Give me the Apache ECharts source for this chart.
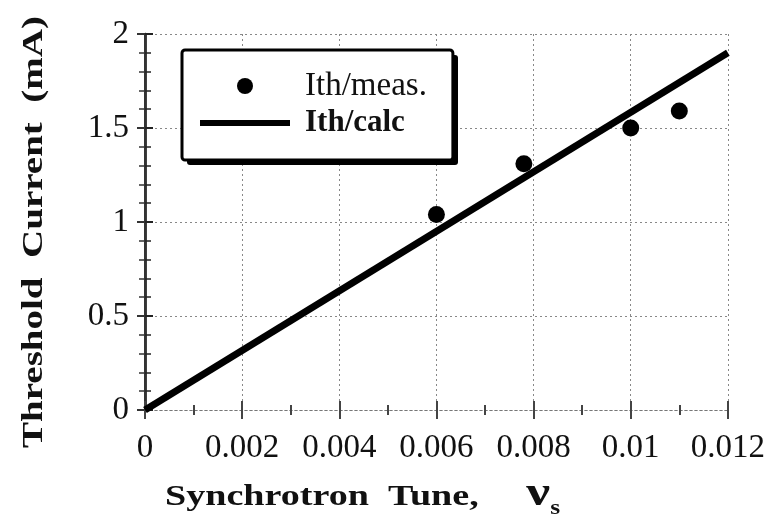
<!DOCTYPE html>
<html>
<head>
<meta charset="utf-8">
<script src="https://cdn.jsdelivr.net/npm/echarts@6/dist/echarts.min.js"></script>
<style>
  html, body { margin: 0; padding: 0; background: #fff; }
  #chart { width: 768px; height: 519px; }
</style>
</head>
<body>
<div id="chart"></div>
<script>
// Measured threshold current vs. synchrotron tune
const tuneMeas = [0.006, 0.0078, 0.010, 0.011];
const ithMeas = [1.04, 1.31, 1.50, 1.59];

// Calculated threshold (linear in tune)
const tuneCalc = [0, 0.012];
const ithCalc = [0, 1.9];

const xTicks = ['0', '0.002', '0.004', '0.006', '0.008', '0.01', '0.012'];
const yTicks = ['0', '0.5', '1', '1.5', '2'];

const serif = '"Liberation Serif", "Times New Roman", serif';

const chart = echarts.init(document.getElementById('chart'), null, { renderer: 'canvas' });

const dotted = { type: [2, 3], color: '#888', width: 1 };

chart.setOption({
  animation: false,
  backgroundColor: '#fff',
  grid: { left: 145, right: 34, top: 34, bottom: 109, containLabel: false },
  legend: {
    left: 182, top: 50,
    orient: 'vertical',
    padding: [19, 26, 20, 18],
    itemGap: 3,
    itemWidth: 90, itemHeight: 16,
    symbolKeepAspect: true,
    backgroundColor: '#fff',
    borderColor: '#000', borderWidth: 3, borderRadius: 3,
    textStyle: { fontFamily: serif, fontSize: 33, lineHeight: 34, color: '#111', padding: [0, 0, 0, 10] },
    data: [
      { name: 'Ith/meas.', icon: 'circle' },
      { name: 'Ith/calc', icon: 'path://M0,0L90,0L90,6L0,6Z', textStyle: { fontWeight: 'bold', fontSize: 31 } }
    ],
    z: 6
  },
  // drop shadow behind the legend box, and the two axis titles
  graphic: [
    {
      type: 'rect', z: 5,
      x: 187, y: 55,
      shape: { width: 271, height: 110, r: 3 },
      style: { fill: '#000' }
    },
    {
      type: 'text',
      x: 165, y: 497, scaleX: 1.27,
      style: {
        text: '{t|Synchrotron  Tune,     }{n|ν}{s|s}',
        textAlign: 'left', textVerticalAlign: 'middle',
        rich: {
          t: { fontFamily: serif, fontWeight: 'bold', fontSize: 30, fill: '#111' },
          n: { fontFamily: serif, fontWeight: 'bold', fontSize: 42, fill: '#111', padding: [0, 0, 6, 0] },
          s: { fontFamily: serif, fontWeight: 'bold', fontSize: 20, fill: '#111', padding: [24, 0, 0, 0] }
        }
      }
    },
    {
      type: 'text',
      x: 34, y: 232, rotation: Math.PI / 2, scaleX: 1.3,
      style: {
        text: 'Threshold  Current  (mA)',
        textAlign: 'center', textVerticalAlign: 'middle',
        fontFamily: serif, fontWeight: 'bold', fontSize: 30, fill: '#111'
      }
    }
  ],
  xAxis: [{
    type: 'value', min: 0, max: 0.012, interval: 0.002,
    position: 'bottom',
    axisLine: { onZero: false, lineStyle: { type: [2, 3], color: '#777', width: 1 } },
    axisTick: { inside: true, length: 9, lineStyle: { color: '#444', width: 2 } },
    minorTick: { show: true, splitNumber: 2, length: 5, lineStyle: { color: '#444', width: 2 } },
    splitLine: { show: true, lineStyle: dotted },
    axisLabel: {
      margin: 22, fontFamily: serif, fontSize: 33, color: '#111',
      formatter: (v) => xTicks[Math.round(v / 0.002)]
    }
  }, {
    type: 'value', min: 0, max: 0.012, interval: 0.002,
    position: 'top',
    axisLine: { lineStyle: { type: [2, 3], color: '#777', width: 1 } },
    axisTick: { inside: true, length: 9, lineStyle: { color: '#444', width: 2 } },
    minorTick: { show: true, splitNumber: 2, length: 5, lineStyle: { color: '#444', width: 2 } },
    splitLine: { show: false },
    axisLabel: { show: false }
  }],
  yAxis: [{
    type: 'value', min: 0, max: 2, interval: 0.5,
    position: 'left',
    axisLine: { show: true, onZero: false, lineStyle: { color: '#000', width: 2.5 } },
    axisTick: { inside: true, length: 8, lineStyle: { color: '#222', width: 2 } },
    minorTick: { show: true, splitNumber: 5, length: 6, lineStyle: { color: '#222', width: 1.5 } },
    splitLine: { show: true, lineStyle: dotted },
    axisLabel: {
      margin: 16, fontFamily: serif, fontSize: 33, color: '#111',
      formatter: (v) => yTicks[Math.round(v / 0.5)]
    }
  }, {
    type: 'value', min: 0, max: 2, interval: 0.5,
    position: 'right',
    axisLine: { show: true, lineStyle: { color: '#333', width: 2 } },
    axisTick: { inside: true, length: 8, lineStyle: { color: '#333', width: 2 } },
    minorTick: { show: true, splitNumber: 5, length: 6, lineStyle: { color: '#333', width: 1.5 } },
    splitLine: { show: false },
    axisLabel: { show: false }
  }],
  series: [
    {
      name: 'Ith/calc', type: 'line',
      data: tuneCalc.map((x, i) => [x, ithCalc[i]]),
      symbol: 'none',
      lineStyle: { color: '#000', width: 7 },
      itemStyle: { color: '#000' },
      z: 3
    },
    {
      name: 'Ith/meas.', type: 'scatter',
      data: tuneMeas.map((x, i) => [x, ithMeas[i]]),
      symbol: 'circle', symbolSize: 17,
      itemStyle: { color: '#000', opacity: 1 },
      z: 4
    }
  ]
});
</script>
</body>
</html>
